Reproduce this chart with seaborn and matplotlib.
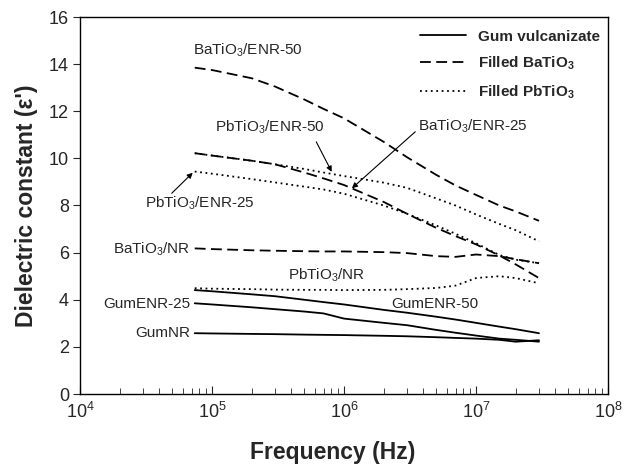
import numpy as np
import pandas as pd
import matplotlib
matplotlib.use("Agg")
import matplotlib.pyplot as plt
from matplotlib.lines import Line2D
from matplotlib.ticker import LogLocator, NullFormatter, FixedLocator, FixedFormatter
import seaborn as sns

# ---------------- data ----------------
freq = [7.4e4, 1e5, 2e5, 3e5, 5e5, 7e5, 1e6, 2e6, 3e6, 5e6, 7e6, 1e7, 1.5e7, 2e7, 3e7]

bat_enr50 = [13.85, 13.75, 13.4, 13.05, 12.5, 12.1, 11.7, 10.7, 10.05, 9.3, 8.85, 8.45, 8.0, 7.75, 7.35]
pbt_enr50 = [10.22, 10.12, 9.9, 9.75, 9.55, 9.4, 9.25, 8.97, 8.75, 8.3, 8.0, 7.62, 7.22, 6.95, 6.48]
bat_enr25 = [10.22, 10.12, 9.9, 9.75, 9.4, 9.15, 8.87, 8.15, 7.65, 7.05, 6.7, 6.35, 5.88, 5.5, 4.92]
pbt_enr25 = [9.44, 9.35, 9.12, 8.98, 8.8, 8.68, 8.5, 8.0, 7.65, 7.15, 6.8, 6.4, 5.9, 5.7, 5.55]
bat_nr = [6.18, 6.15, 6.1, 6.08, 6.06, 6.05, 6.05, 6.02, 5.98, 5.85, 5.82, 5.92, 5.85, 5.72, 5.55]
pbt_nr = [4.49, 4.47, 4.45, 4.43, 4.42, 4.42, 4.41, 4.42, 4.45, 4.5, 4.6, 4.92, 5.0, 4.92, 4.7]
gum_enr50 = [4.41, 4.36, 4.23, 4.15, 4.0, 3.9, 3.8, 3.57, 3.45, 3.28, 3.16, 3.02, 2.86, 2.75, 2.58]
gum_enr25 = [3.85, 3.8, 3.68, 3.6, 3.5, 3.42, 3.2, 3.02, 2.92, 2.72, 2.6, 2.48, 2.35, 2.3, 2.22]
gum_nr = [2.58, 2.57, 2.55, 2.54, 2.52, 2.51, 2.50, 2.47, 2.45, 2.41, 2.38, 2.35, 2.3, 2.22, 2.28]

series = {
    "BaTiO3/ENR-50": (bat_enr50, "dash"),
    "PbTiO3/ENR-50": (pbt_enr50, "dot"),
    "BaTiO3/ENR-25": (bat_enr25, "dash"),
    "PbTiO3/ENR-25": (pbt_enr25, "dot"),
    "BaTiO3/NR": (bat_nr, "dash"),
    "PbTiO3/NR": (pbt_nr, "dot"),
    "GumENR-50": (gum_enr50, "solid"),
    "GumENR-25": (gum_enr25, "solid"),
    "GumNR": (gum_nr, "solid"),
}

legend_labels = ["Gum vulcanizate", r"Filled BaTiO$_\mathbf{3}$", r"Filled PbTiO$_\mathbf{3}$"]
xtick_vals = [1e4, 1e5, 1e6, 1e7, 1e8]
xtick_labels = [r"$10^{4}$", r"$10^{5}$", r"$10^{6}$", r"$10^{7}$", r"$10^{8}$"]

# ---------------- style ----------------
sns.set_style("ticks")
plt.rcParams["font.family"] = ["Liberation Sans", "DejaVu Sans"]
plt.rcParams["mathtext.fontset"] = "custom"
plt.rcParams["mathtext.rm"] = "Liberation Sans"
plt.rcParams["mathtext.it"] = "Liberation Sans:italic"
plt.rcParams["mathtext.bf"] = "Liberation Sans:bold"
plt.rcParams["axes.linewidth"] = 1.0

dashes = {"dash": (0, (6, 3)), "dot": (0, (1, 2)), "solid": "-"}

fig = plt.figure(figsize=(6.28, 4.65), dpi=100)
ax = fig.add_axes([80 / 628, 71 / 465, 528 / 628, 377 / 465])

for name, (vals, sty) in series.items():
    df = pd.DataFrame({"f": freq, "e": vals})
    sns.lineplot(data=df, x="f", y="e", ax=ax, color="black", lw=1.3,
                 linestyle=dashes[sty], legend=False)

ax.set_xscale("log")
ax.set_xlim(1e4, 1e8)
ax.set_ylim(0, 16)
ax.set_yticks(np.arange(0, 17, 2))
ax.xaxis.set_major_locator(FixedLocator(xtick_vals))
ax.xaxis.set_major_formatter(FixedFormatter(xtick_labels))
ax.xaxis.set_minor_locator(LogLocator(base=10, subs=np.arange(2, 10), numticks=100))
ax.xaxis.set_minor_formatter(NullFormatter())
ax.tick_params(axis="x", which="major", direction="in", length=6, labelsize=13, pad=6)
ax.tick_params(axis="x", which="minor", direction="in", length=4)
ax.tick_params(axis="y", which="major", direction="out", length=5, labelsize=13, pad=3)
for s in ax.spines.values():
    s.set_visible(True)
    s.set_color("black")

ax.set_xlabel("Frequency (Hz)", fontsize=16.5, fontweight="bold")
ax.xaxis.set_label_coords(0.479, -0.154)
ax.xaxis.label.set_va("center")
ax.set_ylabel("Dielectric constant (ε')", fontsize=16.5, fontweight="bold", labelpad=8)

# ---------------- annotations ----------------
fs = 11
ax.text(10**4.856, 14.6, r"BaTiO$_3$/ENR-50", fontsize=fs, va="center", ha="left")
ax.text(10**5.02, 11.33, r"PbTiO$_3$/ENR-50", fontsize=fs, va="center", ha="left")
ax.text(10**6.56, 11.35, r"BaTiO$_3$/ENR-25", fontsize=fs, va="center", ha="left")
ax.text(10**4.49, 8.1, r"PbTiO$_3$/ENR-25", fontsize=fs, va="center", ha="left")
ax.text(10**4.833, 6.15, r"BaTiO$_3$/NR", fontsize=fs, va="center", ha="right")
ax.text(10**4.833, 3.82, "GumENR-25", fontsize=fs, va="center", ha="right")
ax.text(10**4.833, 2.58, "GumNR", fontsize=fs, va="center", ha="right")
ax.text(10**5.576, 5.05, r"PbTiO$_3$/NR", fontsize=fs, va="center", ha="left")
ax.text(10**6.36, 3.81, "GumENR-50", fontsize=fs, va="center", ha="left")

arrowprops = dict(arrowstyle="-|>", color="black", lw=0.8, mutation_scale=8, shrinkA=0, shrinkB=0)
ax.annotate("", xy=(10**5.907, 9.43), xytext=(10**5.79, 10.7), arrowprops=arrowprops)
ax.annotate("", xy=(10**6.06, 8.73), xytext=(10**6.54, 11.13), arrowprops=arrowprops)
ax.annotate("", xy=(10**4.854, 9.39), xytext=(10**4.695, 8.52), arrowprops=arrowprops)

# ---------------- legend ----------------
handles = [Line2D([], [], color="black", lw=1.3, linestyle=dashes[k]) for k in ["solid", "dash", "dot"]]
ax.legend(handles, legend_labels, loc="upper left", bbox_to_anchor=(0.644, 0.966),
          frameon=False, borderpad=0, borderaxespad=0, handlelength=3.0,
          handletextpad=0.8, labelspacing=0.72, prop={"weight": "bold", "size": 11})

fig.savefig("out.png", dpi=100)
